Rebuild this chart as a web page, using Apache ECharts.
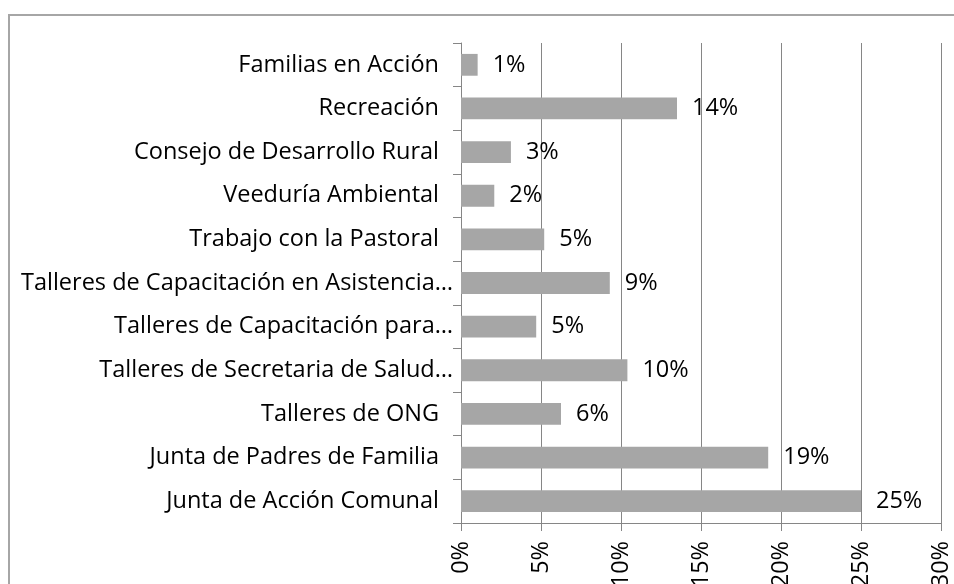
<!DOCTYPE html>
<html>
<head>
<meta charset="utf-8">
<script src="https://cdn.jsdelivr.net/npm/echarts@6/dist/echarts.min.js"></script>
<style>
  html, body { margin: 0; padding: 0; background: #fff; overflow: hidden; }
  #frame { position: absolute; left: 8px; top: 14px; width: 960px; height: 600px;
           border-left: 2px solid #a6a6a6; border-top: 2px solid #a6a6a6; box-sizing: border-box; }
  #chart { position: absolute; left: 0; top: 0; width: 954px; height: 584px; }
</style>
</head>
<body>
<div id="frame"></div>
<div id="chart"></div>
<script>
// categorias de abajo hacia arriba
var categorias = [
    'Junta de Acción Comunal',
    'Junta de Padres de Familia',
    'Talleres de ONG',
    'Talleres de Secretaria de Salud…',
    'Talleres de Capacitación para…',
    'Talleres de Capacitación en Asistencia…',
    'Trabajo con la Pastoral',
    'Veeduría Ambiental',
    'Consejo de Desarrollo Rural',
    'Recreación',
    'Familias en Acción'
];
var valores = [25, 19.2, 6.25, 10.4, 4.7, 9.3, 5.2, 2.08, 3.12, 13.5, 1.04];
var ticksX = [0, 5, 10, 15, 20, 25, 30];

var fuente = 'Open Sans';
var chart = echarts.init(document.getElementById('chart'));
chart.setOption({
    animation: false,
    grid: { left: 461, right: 13, top: 43, bottom: 61, containLabel: false, outerBoundsMode: 'none' },
    xAxis: {
        type: 'value',
        min: ticksX[0],
        max: ticksX[ticksX.length - 1],
        interval: 5,
        axisLine: { show: true, lineStyle: { color: '#868686', width: 1 } },
        axisTick: { show: true, length: 8, lineStyle: { color: '#868686' } },
        splitLine: { show: true, lineStyle: { color: '#868686', width: 1 } },
        axisLabel: {
            rotate: 90,
            margin: 18,
            color: '#000',
            fontFamily: fuente,
            fontSize: 23.5,
            formatter: function (v) { return v + '%'; }
        }
    },
    yAxis: {
        type: 'category',
        data: categorias,
        axisLine: { show: true, lineStyle: { color: '#868686', width: 1 } },
        axisTick: { show: true, length: 8, lineStyle: { color: '#868686' } },
        axisLabel: {
            margin: 8,
            color: '#000',
            fontFamily: fuente,
            fontSize: 23.5,
            // las etiquetas recortadas (…) quedan mas pegadas al eje
            formatter: function (v) {
                if (v.indexOf('…') >= 0) return '{t|' + v + '}';
                return '{t|' + v + '}{s|}';
            },
            rich: {
                t: { fontFamily: fuente, fontSize: 23.5, color: '#000' },
                s: { width: 14 }
            }
        }
    },
    series: [{
        type: 'bar',
        data: valores,
        barCategoryGap: '50%',
        itemStyle: { color: '#a6a6a6' },
        label: {
            show: true,
            position: 'right',
            distance: 15,
            color: '#000',
            fontFamily: fuente,
            fontSize: 23.5,
            formatter: function (p) { return Math.round(p.value) + '%'; }
        }
    }]
});
</script>
</body>
</html>
